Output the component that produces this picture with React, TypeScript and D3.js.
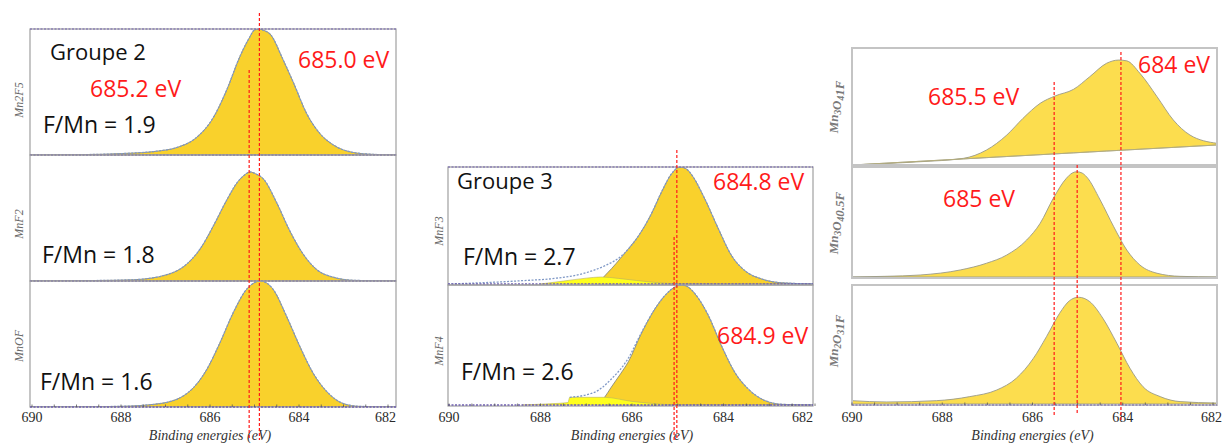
import React from 'react';
import * as d3 from 'd3';

type Pt = [number, number];

// ---------- data ----------
const energyTicks = [690, 688, 686, 684, 682];
const minorTicks = [689.5, 689, 688.5, 687.5, 687, 686.5, 685.5, 685, 684.5, 683.5, 683, 682.5];
const axisTitle = 'Binding energies (eV)';

// Groupe 2
const mn2f5: Pt[] = [[690.05,0],[689.02,0.002],[688.40,0.006],[687.88,0.013],[687.20,0.03],[686.74,0.06],[686.30,0.14],[685.92,0.30],[685.62,0.52],[685.33,0.78],[685.10,0.94],[685.01,0.99],[684.90,1.0],[684.80,0.99],[684.65,0.96],[684.35,0.75],[684.12,0.57],[683.83,0.33],[683.53,0.17],[683.23,0.08],[682.78,0.02],[682.33,0.005],[681.82,0]];
const mnf2: Pt[] = [[690.05,0],[688.50,0.004],[687.72,0.01],[686.97,0.05],[686.52,0.135],[686.22,0.255],[685.92,0.44],[685.62,0.645],[685.37,0.79],[685.23,0.84],[685.10,0.865],[684.97,0.85],[684.80,0.81],[684.50,0.62],[684.21,0.40],[683.91,0.215],[683.60,0.09],[683.23,0.03],[682.75,0.005],[681.82,0]];
const mnof: Pt[] = [[690.05,0],[688.81,0.002],[688.02,0.005],[687.13,0.027],[686.52,0.107],[686.08,0.293],[685.78,0.507],[685.48,0.747],[685.18,0.933],[685.01,0.985],[684.87,1.0],[684.73,0.985],[684.58,0.933],[684.28,0.72],[683.98,0.48],[683.68,0.267],[683.37,0.12],[683.00,0.027],[682.64,0.005],[681.82,0]];

// Groupe 3
const mnf3Env: Pt[] = [[690.03,0],[689.2,0.012],[688.42,0.028],[687.69,0.048],[687.11,0.085],[686.60,0.155],[686.23,0.24],[685.86,0.41],[685.57,0.605],[685.35,0.79],[685.13,0.945],[684.95,1.0],[684.80,0.98],[684.69,0.93],[684.40,0.72],[684.11,0.47],[683.82,0.24],[683.53,0.113],[683.16,0.042],[682.72,0.01],[682,0]];
const mnf3Main: Pt[] = [[686.75,0],[686.62,0.06],[686.45,0.13],[686.25,0.22],[686.08,0.30],[685.86,0.41],[685.57,0.605],[685.35,0.79],[685.13,0.945],[684.95,1.0],[684.80,0.98],[684.69,0.93],[684.40,0.72],[684.11,0.47],[683.82,0.24],[683.53,0.113],[683.16,0.042],[682.72,0.01],[682,0]];
const mnf3Minor: Pt[] = [[688.0,0],[687.5,0.025],[687.0,0.05],[686.67,0.06],[686.3,0.048],[685.9,0.03],[685.4,0.01],[685.0,0]];
const mnf4Env: Pt[] = [[687.36,0.064],[686.82,0.106],[686.45,0.217],[686.08,0.39],[685.79,0.606],[685.50,0.80],[685.21,0.94],[685.05,0.985],[684.92,1.0],[684.78,0.985],[684.62,0.925],[684.33,0.745],[684.04,0.49],[683.75,0.27],[683.45,0.13],[683.09,0.036],[682.7,0.005],[682,0]];
const mnf4Main: Pt[] = [[686.75,0],[686.6,0.064],[686.45,0.15],[686.25,0.26],[686.08,0.36],[685.79,0.6],[685.50,0.80],[685.21,0.94],[685.05,0.985],[684.92,1.0],[684.78,0.985],[684.62,0.925],[684.33,0.745],[684.04,0.49],[683.75,0.27],[683.45,0.13],[683.09,0.036],[682.7,0.005],[682,0]];
const mnf4Minor: Pt[] = [[688.4,0],[687.8,0.01],[687.4,0.02],[687.36,0.064],[686.6,0.064],[686.0,0.03],[685.4,0.008],[685.1,0]];

// Groupe 4 (right)
const mn3o4_1f: Pt[] = [[690,0],[689.27,0.012],[688.49,0.028],[687.53,0.057],[687.02,0.128],[686.57,0.256],[686.21,0.399],[685.83,0.527],[685.50,0.59],[685.09,0.647],[684.73,0.755],[684.36,0.869],[684.09,0.897],[683.91,0.89],[683.62,0.784],[683.24,0.584],[682.88,0.385],[682.51,0.256],[681.91,0.185]];
const mn3o4_1fBase: Pt[] = [[690,0],[681.91,0.171]];
const mn3o4_05f: Pt[] = [[690,0],[689.27,0.006],[688.49,0.018],[687.60,0.064],[687.02,0.125],[686.57,0.2],[686.13,0.336],[685.83,0.488],[685.54,0.715],[685.25,0.897],[685.12,0.945],[685.02,0.957],[684.90,0.945],[684.80,0.91],[684.50,0.70],[684.20,0.457],[683.91,0.245],[683.62,0.109],[683.24,0.034],[682.73,0.006],[681.91,0]];
const mn2o3_1f: Pt[] = [[690,0.028],[689.23,0.017],[688.13,0.028],[687.39,0.062],[686.79,0.118],[686.36,0.216],[685.98,0.384],[685.69,0.566],[685.40,0.762],[685.18,0.868],[684.98,0.897],[684.73,0.86],[684.44,0.72],[684.13,0.51],[683.84,0.30],[683.55,0.145],[683.17,0.062],[682.73,0.02],[681.91,0.008]];

// reference energies (red dashed lines)
const g2Lines = [684.89, 685.12];
const g3Lines = [685.02, 685.08];
const g4Lines = [685.52, 685.01, 684.04];

// ---------- styles ----------
const GOLD = '#F9D12C';
const GOLD4 = '#FCDD4E';
const YEL = '#FFFF1E';
const RED = '#FF1A1A';
const SANS = '"Open Sans", "Noto Sans", sans-serif';
const SERIF = '"Liberation Serif", "DejaVu Serif", serif';

type PanelSpec = {
  top: number; bottom: number; base: number;
  main: Pt[]; env?: Pt[]; minor?: Pt[]; baseline?: Pt[];
  label: React.ReactNode; labelY: number;
};

type GroupSpec = {
  fx0: number; fx1: number; sx0: number; sx1: number; style: 'a' | 'b'; labelX: number;
  panels: PanelSpec[];
  lines: number[]; lineTops: number[]; lineBottoms: number[];
};

const sub = (t: string, fs: number) => (
  <>
    <tspan dy={3} fontSize={fs * 0.72}>{t}</tspan>
    <tspan dy={-3}>{''}</tspan>
  </>
);

const groups: GroupSpec[] = [
  {
    fx0: 30, fx1: 396, sx0: 32, sx1: 388, style: 'a', labelX: 23,
    lines: g2Lines, lineTops: [13, 70], lineBottoms: [440, 440],
    panels: [
      { top: 29, bottom: 155, base: 155, main: mn2f5, env: mn2f5, label: 'Mn2F5', labelY: 100 },
      { top: 155, bottom: 281, base: 281, main: mnf2, env: mnf2, label: 'MnF2', labelY: 224 },
      { top: 281, bottom: 407, base: 407, main: mnof, env: mnof, label: 'MnOF', labelY: 346 },
    ],
  },
  {
    fx0: 448, fx1: 813, sx0: 449, sx1: 815, style: 'a', labelX: 443,
    lines: g3Lines, lineTops: [150, 237], lineBottoms: [440, 440],
    panels: [
      { top: 167, bottom: 285, base: 284, main: mnf3Main, env: mnf3Env, minor: mnf3Minor, label: 'MnF3', labelY: 231 },
      { top: 285, bottom: 406, base: 405, main: mnf4Main, env: mnf4Env, minor: mnf4Minor, label: 'MnF4', labelY: 351 },
    ],
  },
  {
    fx0: 852, fx1: 1217, sx0: 852, sx1: 1213, style: 'b', labelX: 838,
    lines: g4Lines, lineTops: [82, 165, 52], lineBottoms: [415, 413, 420],
    panels: [
      { top: 48, bottom: 165, base: 165, main: mn3o4_1f, baseline: mn3o4_1fBase,
        label: <>Mn{sub('3', 13)}O{sub('4', 13)}1F</>, labelY: 107 },
      { top: 167, bottom: 278, base: 277, main: mn3o4_05f,
        label: <>Mn{sub('3', 13)}O{sub('4', 13)}0.5F</>, labelY: 223 },
      { top: 285, bottom: 405, base: 404, main: mn2o3_1f,
        label: <>Mn{sub('2', 13)}O{sub('3', 13)}1F</>, labelY: 341 },
    ],
  },
];

type TextSpec = { t: string; x: number; y: number; c: string; fs: number };
const texts: TextSpec[] = [
  { t: 'Groupe 2', x: 50, y: 60, c: '#111', fs: 22 },
  { t: '685.2 eV', x: 90, y: 97, c: RED, fs: 23 },
  { t: '685.0 eV', x: 298, y: 68, c: RED, fs: 23 },
  { t: 'F/Mn = 1.9', x: 43, y: 133, c: '#111', fs: 23 },
  { t: 'F/Mn = 1.8', x: 42, y: 263, c: '#111', fs: 23 },
  { t: 'F/Mn = 1.6', x: 40, y: 390, c: '#111', fs: 23 },
  { t: 'Groupe 3', x: 457, y: 189, c: '#111', fs: 22 },
  { t: '684.8 eV', x: 713, y: 190, c: RED, fs: 23 },
  { t: 'F/Mn = 2.7', x: 463, y: 265, c: '#111', fs: 23 },
  { t: '684.9 eV', x: 717, y: 344, c: RED, fs: 23 },
  { t: 'F/Mn = 2.6', x: 461, y: 380, c: '#111', fs: 23 },
  { t: '685.5 eV', x: 928, y: 105, c: RED, fs: 23 },
  { t: '684 eV', x: 1138, y: 73, c: RED, fs: 23 },
  { t: '685 eV', x: 943, y: 207, c: RED, fs: 23 },
];

function Group({ g }: { g: GroupSpec }) {
  const x = d3.scaleLinear().domain([690, 682]).range([g.sx0, g.sx1]);
  const last = g.panels[g.panels.length - 1];
  const axisY = last.bottom;
  return (
    <g>
      {g.panels.map((p, i) => {
        const y = d3.scaleLinear().domain([0, 1]).range([p.base, p.top]);
        const bl = p.baseline
          ? d3.scaleLinear().domain(p.baseline.map(d => d[0])).range(p.baseline.map(d => d[1]))
          : () => 0;
        const area = d3.area<Pt>()
          .x(d => x(d[0]))
          .y0(d => y(bl(d[0]) as number))
          .y1(d => y(d[1]))
          .curve(d3.curveMonotoneX);
        const line = d3.line<Pt>().x(d => x(d[0])).y(d => y(d[1])).curve(d3.curveMonotoneX);
        const clipId = `clip-${g.fx0}-${i}`;
        return (
          <g key={i}>
            <defs>
              <clipPath id={clipId}>
                <rect x={g.fx0} y={p.top} width={g.fx1 - g.fx0} height={p.bottom - p.top} />
              </clipPath>
            </defs>
            <g clipPath={`url(#${clipId})`}>
              <path d={area(p.main) || ''} fill={g.style === 'a' ? GOLD : GOLD4}
                stroke={g.style === 'a' ? '#8c8c7a' : '#9a9a88'} strokeWidth={0.9} />
              {p.minor && (
                <path d={area(p.minor) || ''} fill={YEL} stroke="#b8b060" strokeWidth={0.6} />
              )}
              {p.baseline && (
                <path d={line(p.baseline) || ''} fill="none" stroke="#b9b07a" strokeWidth={0.8} />
              )}
              {p.env && (
                <path d={line(p.env) || ''} fill="none" stroke="#7f98c6" strokeWidth={1.3} strokeDasharray="2,1.5" />
              )}
            </g>
            <rect x={g.fx0} y={p.top} width={g.fx1 - g.fx0} height={p.bottom - p.top}
              fill="none" stroke={g.style === 'a' ? '#a0a0a0' : '#c4c4c4'} strokeWidth={g.style === 'a' ? 1.2 : 2} />
            {g.style === 'a' && (
              <line x1={g.fx0} x2={g.fx1} y1={p.base} y2={p.base} stroke="#7060b0" strokeWidth={1.3} strokeDasharray="2,1.5" />
            )}
            {g.style === 'a' && i === 0 && (
              <line x1={g.fx0} x2={g.fx1} y1={p.top} y2={p.top} stroke="#7060b0" strokeWidth={1.1} strokeDasharray="2,1.5" />
            )}
            <text
              transform={`translate(${g.labelX},${p.labelY}) rotate(-90)`}
              textAnchor="middle"
              fontFamily={SERIF}
              fontStyle="italic"
              fontWeight={g.style === 'b' ? 'bold' : 'normal'}
              fontSize={g.style === 'b' ? 13 : 12}
              fill={g.style === 'b' ? '#7a7a7a' : '#666'}
            >{p.label}</text>
          </g>
        );
      })}
      {g.style === 'b' && (
        <line x1={g.fx0} x2={g.fx1} y1={last.base + 1} y2={last.base + 1} stroke="#7060b0" strokeWidth={1.2} strokeDasharray="2,1.5" />
      )}
      {minorTicks.concat(energyTicks).map((e, i) => (
        <line key={'mt' + i} x1={x(e)} x2={x(e)} y1={axisY} y2={axisY - 2.5} stroke="#555" strokeWidth={0.8} />
      ))}
      {energyTicks.map(e => {
        const half = 11.5;
        let cx = x(e);
        if (cx + half > g.fx1 + 1) cx = Math.min(cx, 1223 - half, g.fx1 + 1 - half + (g.style === 'b' ? 5 : 0));
        return (
          <text key={e} x={cx} y={422} textAnchor="middle" fontFamily={SERIF} fontSize={14} fill="#2a2a2a">{e}</text>
        );
      })}
      <text x={(g.sx0 + g.sx1) / 2} y={440} textAnchor="middle" fontFamily={SERIF} fontStyle="italic" fontSize={14} fill="#333">{axisTitle}</text>
      {g.lines.map((e, i) => (
        <line key={'rl' + i} x1={x(e)} x2={x(e)} y1={g.lineTops[i]} y2={g.lineBottoms[i]}
          stroke={RED} strokeWidth={1.2} strokeDasharray="3,2" />
      ))}
    </g>
  );
}

export default function App() {
  return (
    <svg width={1223} height={446} viewBox="0 0 1223 446"
      style={{ position: 'absolute', left: 0, top: 0, background: '#fff' }}>
      <rect x={0} y={0} width={1223} height={446} fill="#fff" />
      {groups.map((g, i) => <Group key={i} g={g} />)}
      {texts.map((t, i) => (
        <text key={i} x={t.x} y={t.y} fontFamily={SANS} fontSize={t.fs} fill={t.c}>{t.t}</text>
      ))}
    </svg>
  );
}
